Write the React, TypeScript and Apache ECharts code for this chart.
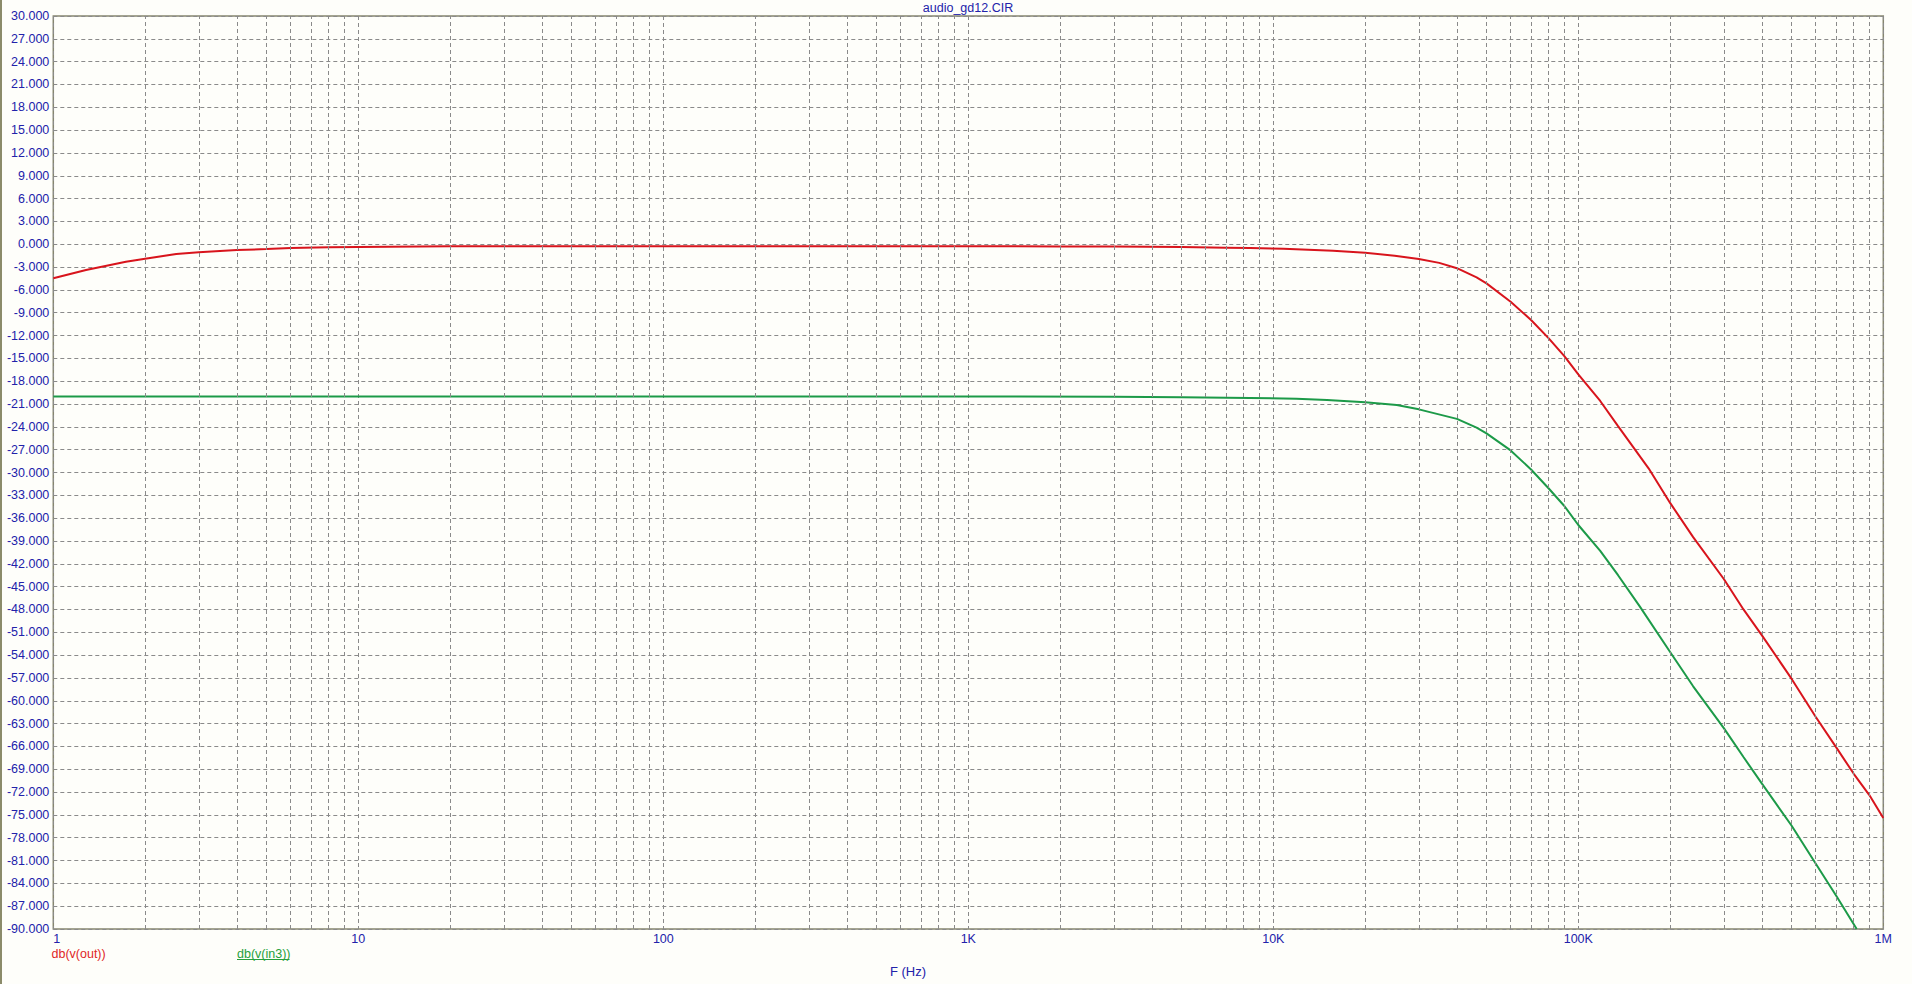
import React, { useEffect, useRef } from "react";
import * as echarts from "echarts";

// ---- data ----
const titleText = "audio_gd12.CIR";
const xAxisName = "F (Hz)";
const seriesNames = ["db(v(out))", "db(v(in3))"];

const xTickValues = [1, 10, 100, 1000, 10000, 100000, 1000000];
const xTickLabels = ["1", "10", "100", "1K", "10K", "100K", "1M"];
const minorMultipliers = [2, 3, 4, 5, 6, 7, 8, 9];

const freqOut = [
  1, 1.28, 1.73, 2, 2.53, 3, 4, 5, 6, 8, 10, 20, 50, 100, 200, 500, 1000, 2000,
  3000, 5000, 7000, 8390, 10800, 15700, 20000, 25000, 30000, 35000, 40000,
  46400, 50000, 60000, 70000, 80000, 90000, 100000, 118000, 135000, 170000,
  200000, 238000, 300000, 348000, 400000, 500000, 600000, 700000, 800000,
  900000, 1000000,
];
const dbOut = [
  -4.48, -3.39, -2.29, -1.9, -1.28, -1.06, -0.76, -0.63, -0.49, -0.4, -0.36,
  -0.27, -0.26, -0.25, -0.25, -0.25, -0.26, -0.28, -0.31, -0.37, -0.45, -0.49,
  -0.58, -0.85, -1.11, -1.5, -1.94, -2.45, -3.15, -4.35, -5.14, -7.55, -9.96,
  -12.37, -14.7, -17.1, -20.6, -23.9, -29.45, -34.0, -38.5, -44.0, -48.0,
  -51.4, -57.1, -62.1, -66.1, -69.6, -72.4, -75.4,
];

const freqIn3 = [
  1, 10, 100, 1000, 3000, 5000, 8390, 11900, 15000, 20000, 25400, 30000, 40000,
  46400, 50000, 60000, 70000, 80000, 90000, 100000, 118000, 135000, 159000,
  200000, 238000, 300000, 348000, 400000, 500000, 600000, 700000, 818000,
];
const dbIn3 = [
  -20.0, -20.0, -20.0, -20.0, -20.05, -20.1, -20.21, -20.3, -20.47, -20.78,
  -21.13, -21.7, -22.95, -24.1, -24.85, -27.1, -29.6, -32.1, -34.4, -36.9,
  -40.3, -43.5, -47.6, -53.6, -58.1, -63.6, -67.4, -70.9, -76.4, -81.4, -85.6,
  -90.0,
];

const yMin = -90;
const yMax = 30;
const yStep = 3;

// ---- styles ----
const FONT = "'Liberation Sans', Arial, sans-serif";
const BLUE = "#2222aa";
const RED = "#d8141c";
const GREEN = "#1c9a48";
const GRID_GRAY = "#8a8a8a";
const BORDER = "#86866f";
const BG = "#fefefa";

export default function App() {
  const ref = useRef<HTMLDivElement>(null);

  useEffect(() => {
    if (!ref.current) return;
    const chart = echarts.init(ref.current, undefined, { renderer: "svg" });

    const minorLines: any[] = [];
    for (let i = 0; i < xTickValues.length - 1; i++) {
      for (const m of minorMultipliers) {
        minorLines.push({ xAxis: xTickValues[i] * m });
      }
    }

    const labelFor = (v: number) => {
      const idx = xTickValues.findIndex((t) => Math.abs(t - v) / t < 1e-6);
      return idx >= 0 ? xTickLabels[idx] : "";
    };

    const gridLeft = 53.3;
    const gridRight = 1883.3;

    chart.setOption({
      animation: false,
      backgroundColor: BG,
      textStyle: { fontFamily: FONT },
      grid: {
        left: gridLeft,
        right: 1912 - gridRight,
        top: 16,
        bottom: 984 - 929,
        show: true,
        borderColor: BORDER,
        borderWidth: 1.5,
        backgroundColor: "transparent",
        containLabel: false,
      },
      xAxis: {
        type: "log",
        logBase: 10,
        min: 1,
        max: 1000000,
        splitNumber: 6,
        axisLine: { show: false },
        axisTick: { show: false },
        axisLabel: {
          color: BLUE,
          fontSize: 12.5,
          fontFamily: FONT,
          margin: 3,
          alignMinLabel: "left",
          formatter: (v: number) => labelFor(v),
        },
        splitLine: {
          show: true,
          lineStyle: { color: GRID_GRAY, width: 1, type: [4, 3] },
        },
      },
      yAxis: {
        type: "value",
        min: yMin,
        max: yMax,
        interval: yStep,
        axisLine: { show: false },
        axisTick: { show: false },
        axisLabel: {
          color: BLUE,
          fontSize: 12.5,
          fontFamily: FONT,
          margin: 4,
          formatter: (v: number) => v.toFixed(3),
        },
        splitLine: {
          show: true,
          lineStyle: { color: GRID_GRAY, width: 1, type: [4, 3] },
        },
      },
      series: [
        {
          name: "minor-grid",
          type: "line",
          data: [],
          silent: true,
          z: 1,
          markLine: {
            silent: true,
            symbol: "none",
            label: { show: false },
            lineStyle: { color: GRID_GRAY, width: 1, type: [4, 3] },
            emphasis: { disabled: true },
            data: minorLines,
          },
        },
        {
          name: seriesNames[1],
          type: "line",
          data: freqIn3.map((f, i) => [f, dbIn3[i]]),
          showSymbol: false,
          symbol: "none",
          smooth: false,
          lineStyle: { color: GREEN, width: 2 },
          z: 3,
        },
        {
          name: seriesNames[0],
          type: "line",
          data: freqOut.map((f, i) => [f, dbOut[i]]),
          showSymbol: false,
          symbol: "none",
          smooth: false,
          lineStyle: { color: RED, width: 2 },
          z: 3,
        },
      ],
      graphic: [
        {
          type: "rect",
          left: 0,
          top: 0,
          shape: { x: 0, y: 0, width: 2, height: 984 },
          style: { fill: "#8b8b6a" },
          silent: true,
        },
        {
          type: "text",
          x: 968,
          y: 8,
          style: {
            text: titleText,
            fill: BLUE,
            font: `12.5px ${FONT}`,
            textAlign: "center",
            textVerticalAlign: "middle",
          },
          silent: true,
        },
        {
          type: "text",
          x: 908,
          y: 971,
          style: {
            text: xAxisName,
            fill: BLUE,
            font: `13px ${FONT}`,
            textAlign: "center",
            textVerticalAlign: "middle",
          },
          silent: true,
        },
        {
          type: "text",
          x: 51.5,
          y: 954,
          style: {
            text: seriesNames[0],
            fill: "#e02626",
            font: `12.5px ${FONT}`,
            textAlign: "left",
            textVerticalAlign: "middle",
          },
          silent: true,
        },
        {
          type: "text",
          x: 237,
          y: 954,
          style: {
            text: seriesNames[1],
            fill: "#26a03c",
            font: `12.5px ${FONT}`,
            textAlign: "left",
            textVerticalAlign: "middle",
          },
          silent: true,
        },
        {
          type: "line",
          shape: { x1: 237, y1: 959.5, x2: 289.5, y2: 959.5 },
          style: { stroke: "#26a03c", lineWidth: 1 },
          silent: true,
        },
      ],
    });

    return () => chart.dispose();
  }, []);

  return (
    <div
      ref={ref}
      style={{
        position: "absolute",
        left: 0,
        top: 0,
        width: 1912,
        height: 984,
      }}
    />
  );
}
